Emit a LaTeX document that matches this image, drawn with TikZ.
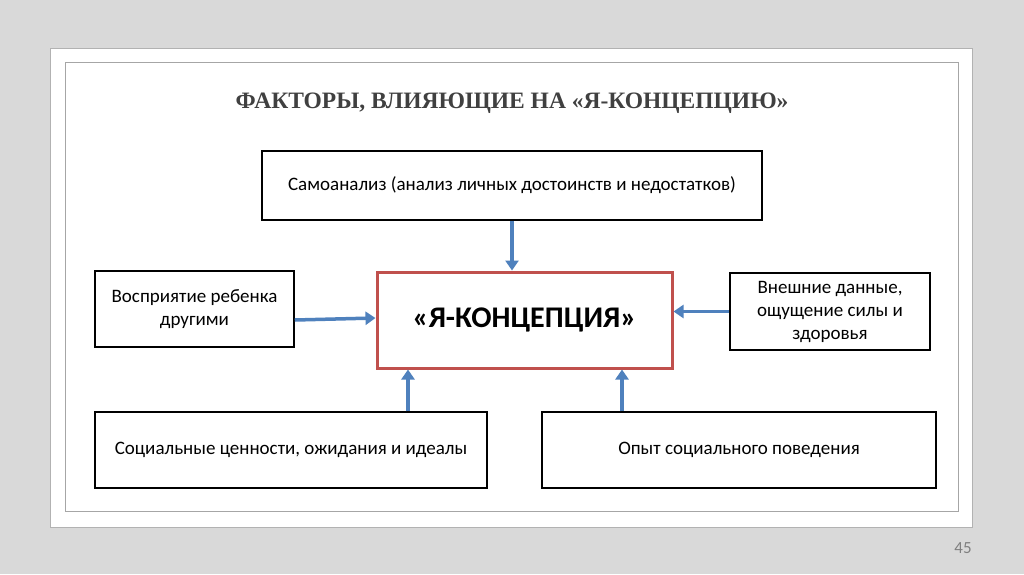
\documentclass[tikz,border=0pt]{standalone}
\usepackage{fontspec}
\setmainfont{Carlito}
\newfontfamily\serifb{Liberation Serif}
\usetikzlibrary{arrows.meta}
\definecolor{bg}{HTML}{D9D9D9}
\definecolor{redb}{HTML}{C0504D}
\definecolor{blueb}{HTML}{4F81BD}
\tikzset{
 box/.style={draw=black,line width=1.5pt,align=center,font=\fontsize{19}{23}\selectfont,inner sep=0pt},
 arr/.style={draw=blueb,line width=3.5pt,-{Triangle[length=10pt,width=13pt]}}
}
\begin{document}
\begin{tikzpicture}[x=1pt,y=-1pt]
\fill[bg] (0,0) rectangle (1024,574);
\useasboundingbox (0,0) rectangle (1024,574);
\fill[white,draw=gray!60] (50,48) rectangle (972,527);
\draw[gray!70,line width=0.8pt] (65,62) rectangle (958,511);
\node (title) at (512,103) {\serifb\bfseries\fontsize{23.5}{27}\selectfont\color{black!75}ФАКТОРЫ, ВЛИЯЮЩИЕ НА «Я-КОНЦЕПЦИЮ»};
\node[box,minimum width=500,minimum height=69] (top) at (512,185.5) {Самоанализ (анализ личных достоинств и недостатков)};
\node[box,minimum width=199,minimum height=76] (left) at (194.5,309) {Восприятие ребенка\\другими};
\node[draw=redb,line width=3pt,minimum width=295,minimum height=96,font=\bfseries\fontsize{30}{34}\selectfont] (c) at (524.5,320) {«Я-КОНЦЕПЦИЯ»};
\node[box,minimum width=200,minimum height=77] (right) at (830,311.5) {Внешние данные,\\ощущение силы и\\здоровья};
\node[box,minimum width=392,minimum height=76] (bl) at (291,450) {Социальные ценности, ожидания и идеалы};
\node[box,minimum width=394,minimum height=76] (br) at (739,450) {Опыт социального поведения};
\draw[arr] (top.south -| 512,0) -- (c.north -| 512,0);
\draw[arr] (left.east |- 0,320) -- (c.west |- 0,318);
\draw[arr] (right.west) -- (c.east |- right.west);
\draw[arr] (bl.north -| 408,0) -- (c.south -| 408,0);
\draw[arr] (br.north -| 622,0) -- (c.south -| 622,0);
\node[text=gray,font=\fontsize{17}{20}\selectfont] (num) at (963,548) {45};
\end{tikzpicture}
\end{document}
